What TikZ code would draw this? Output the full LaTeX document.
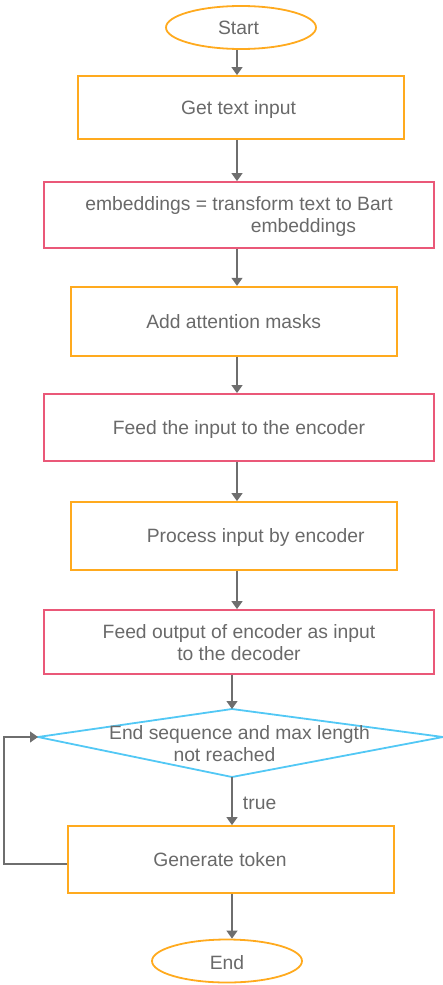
\documentclass[tikz,border=0pt]{standalone}
\usepackage{fontspec}
\setmainfont{Liberation Sans}
\usetikzlibrary{arrows.meta,shapes.geometric}
\definecolor{boxorange}{RGB}{255,170,30}
\definecolor{boxpink}{RGB}{234,88,120}
\definecolor{boxcyan}{RGB}{82,200,245}
\definecolor{txtgray}{RGB}{105,105,105}
\definecolor{arrgray}{RGB}{110,110,110}
\tikzset{
  every node/.style={text=txtgray, font=\fontsize{19.3}{22}\selectfont, text depth=0pt},
  orangebox/.style={draw=boxorange, line width=1.8pt, rectangle, inner sep=0pt},
  pinkbox/.style={draw=boxpink, line width=1.8pt, rectangle, inner sep=0pt},
  terminal/.style={draw=boxorange, line width=1.8pt, ellipse, inner sep=0pt,
                   minimum width=150pt, minimum height=43pt},
  arr/.style={draw=arrgray, line width=1.3pt,
              -{Triangle[width=11pt,length=8pt]}},
  loopline/.style={draw=arrgray, line width=1.1pt,
              -{Triangle[width=11pt,length=8pt]}}
}
\begin{document}
\begin{tikzpicture}[x=1pt,y=-1pt]
  \useasboundingbox (0,0) rectangle (443,985);

  % guide columns for the vertical connectors
  \coordinate (spineA) at (237,0);
  \coordinate (spineB) at (232,0);

  \node[terminal] (start) at (241,27.5) {};
  \node at (238.5,27.5) {Start};

  \node[orangebox, minimum width=326pt, minimum height=63pt] (get) at (241,107.5)
    {\hspace*{-5pt}Get text input};

  \node[pinkbox, minimum width=390pt, minimum height=66pt, align=center] (emb) at (239,215)
    {embeddings = transform text to Bart\\\hspace*{129pt}embeddings};

  \node[orangebox, minimum width=326pt, minimum height=69pt] (att) at (233.7,321.2)
    {Add attention masks};

  \node[pinkbox, minimum width=390pt, minimum height=66.7pt] (feedin) at (239,427.3)
    {Feed the input to the encoder};

  \node[orangebox, minimum width=326pt, minimum height=68pt] (proc) at (233.7,536)
    {\hspace*{44pt}Process input by encoder};

  \node[pinkbox, minimum width=390pt, minimum height=64pt, align=center] (feedout) at (239,642)
    {Feed output of encoder as input\\to the decoder};

  % decision diamond
  \coordinate (dleft)   at (38,737);
  \coordinate (dtop)    at (232,709);
  \coordinate (dright)  at (443,737);
  \coordinate (dbottom) at (232,777);
  \draw[boxcyan, line width=1.8pt, line join=miter] (dleft) -- (dtop) -- (dright) -- (dbottom) -- cycle;
  \node[align=center] (dtext) at (239.5,743)
    {End sequence and max length\\not reached\hspace*{30pt}};

  \node[orangebox, minimum width=326pt, minimum height=67pt] (gen) at (231,859.5)
    {Generate token\hspace*{22pt}};

  \node[terminal] (end) at (227,961) {};
  \node at (227,962) {End};

  % connectors
  \draw[arr] (start.south -| spineA) -- (get.north -| spineA);
  \draw[arr] (get.south -| spineA) -- (emb.north -| spineA);
  \draw[arr] (emb.south -| spineA) -- (att.north -| spineA);
  \draw[arr] (att.south -| spineA) -- (feedin.north -| spineA);
  \draw[arr] (feedin.south -| spineA) -- (proc.north -| spineA);
  \draw[arr] (proc.south -| spineA) -- (feedout.north -| spineA);
  \draw[arr] (feedout.south -| spineB) -- (dtop);
  \draw[arr] (dbottom) -- node[right=7pt, pos=0.55] (truelbl) {true} (gen.north -| spineB);
  \draw[arr] (gen.south -| spineB) -- (end.north -| spineB);

  % loop back from the token step to the decision
  \coordinate (loopcol) at (4,0);
  \draw[loopline] ([yshift=-4.5pt]gen.west) -- ([yshift=-4.5pt]gen.west -| loopcol) |- (dleft);
\end{tikzpicture}
\end{document}
